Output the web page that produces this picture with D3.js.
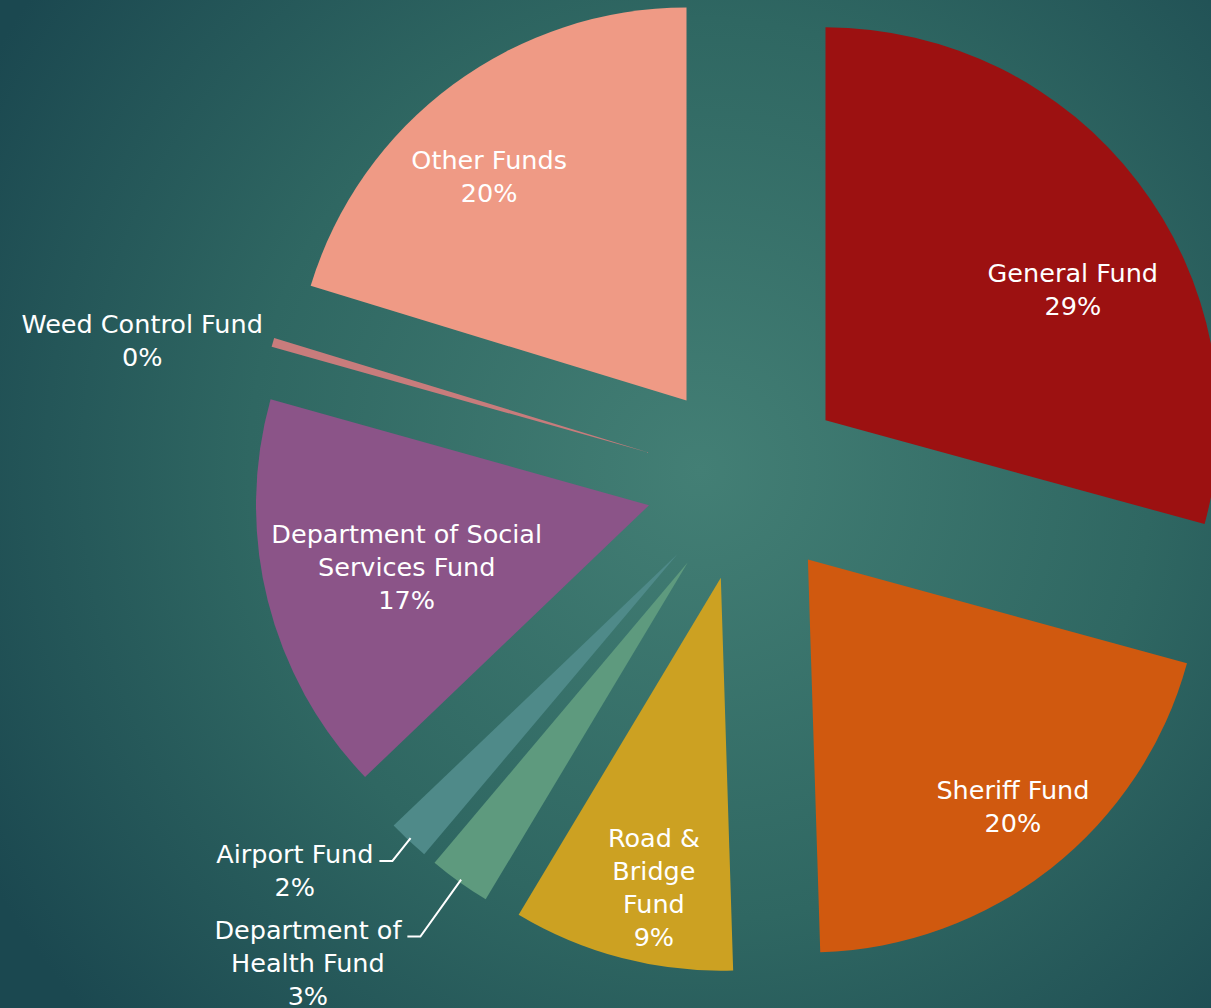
<!DOCTYPE html>
<html>
<head>
<meta charset="utf-8">
<script src="https://cdn.jsdelivr.net/npm/d3@7"></script>
<style>
  html, body { margin: 0; padding: 0; overflow: hidden; }
  text { font-family: "DejaVu Sans", sans-serif; fill: #fff; }
</style>
</head>
<body>
<svg id="chart"></svg>
<script>
const W = 1211, H = 1008;
const R = 393;       // pie radius
const EXPLODE = 100; // distance each slice is pulled out

// data
var funds = ["General Fund", "Sheriff Fund", "Road & Bridge Fund", "Department of Health Fund",
             "Airport Fund", "Department of Social Services Fund", "Weed Control Fund", "Other Funds"];
var shares = [29.25, 20.25, 9.1, 2.55, 1.7, 16.5, 0.37, 20.28];
var colors = ["#9c1111", "#d0590f", "#cca122", "#5e9a7e", "#4f8a89", "#8b5488", "#c87c7c", "#ef9a85"];
// how each label is broken into lines
var labelLines = [["General Fund"], ["Sheriff Fund"], ["Road &", "Bridge", "Fund"],
                  ["Department of", "Health Fund"], ["Airport Fund"],
                  ["Department of Social", "Services Fund"], ["Weed Control Fund"], ["Other Funds"]];

// label placement: inside labels -> distance along bisector + sideways nudge,
// outside labels -> polar position from pie center (radius, degrees)
var place = {
  "General Fund": {along: 276, side: 46},
  "Sheriff Fund": {along: 321, side: -8},
  "Road & Bridge Fund": {along: 316, side: -13},
  "Department of Social Services Fund": {along: 250, side: -1},
  "Other Funds": {along: 298, side: -25},
  "Department of Health Fund": {out: 651, deg: 222.3, leader: true},
  "Airport Fund": {out: 596, deg: 229.2, leader: true},
  "Weed Control Fund": {out: 620, deg: 283.1, leader: false}
};

var cx = 746, cy = 481;
var LH = 33;

var svg = d3.select("#chart").attr("width", W).attr("height", H);

// background
var grad = svg.append("defs").append("radialGradient")
    .attr("id", "bg").attr("gradientUnits", "userSpaceOnUse")
    .attr("cx", 700).attr("cy", 470).attr("r", 820);
grad.append("stop").attr("offset", "0%").attr("stop-color", "#437f75");
grad.append("stop").attr("offset", "55%").attr("stop-color", "#2f6762");
grad.append("stop").attr("offset", "100%").attr("stop-color", "#1b4850");
svg.append("rect").attr("width", W).attr("height", H).attr("fill", "url(#bg)");

var pie = d3.pie().sort(null).value(d => d.v);
var arc = d3.arc().innerRadius(0).outerRadius(R);
var data = funds.map((f, i) => ({name: f, v: shares[i], color: colors[i], lines: labelLines[i]}));
var arcs = pie(data);

function dir(a) { return [Math.sin(a), -Math.cos(a)]; }

var g = svg.append("g").attr("transform", "translate(" + cx + "," + cy + ")");

var slices = g.selectAll(".slice").data(arcs).enter().append("g")
    .attr("class", "slice")
    .attr("transform", d => {
      var m = (d.startAngle + d.endAngle) / 2, u = dir(m);
      return "translate(" + (u[0] * EXPLODE) + "," + (u[1] * EXPLODE) + ")";
    });

slices.append("path")
    .attr("d", arc)
    .attr("fill", d => d.data.color);

// labels
arcs.forEach(function(d) {
  var p = place[d.data.name];
  var m = (d.startAngle + d.endAngle) / 2, u = dir(m);
  var x, y;
  if (p.along !== undefined) {
    var t = [Math.cos(m), Math.sin(m)];
    x = u[0] * (EXPLODE + p.along) + t[0] * p.side;
    y = u[1] * (EXPLODE + p.along) + t[1] * p.side;
  } else {
    var a = p.deg * Math.PI / 180, v = dir(a);
    x = v[0] * p.out;
    y = v[1] * p.out;
  }
  var lines = d.data.lines.concat([Math.round(d.data.v) + "%"]);
  var top = y - (lines.length - 1) * LH / 2;
  var txt = g.append("text")
      .attr("text-anchor", "middle")
      .style("font-size", "25.5px");
  lines.forEach(function(s, i) {
    txt.append("tspan").attr("x", x).attr("y", top + i * LH).attr("dy", "0.36em").text(s);
  });

  if (p.leader) {
    var w = txt.select("tspan").node().getComputedTextLength();
    var x0 = x + w / 2 + 6, y0 = top + 7;
    var end = [u[0] * (EXPLODE + R - 3), u[1] * (EXPLODE + R - 3)];
    g.append("path")
        .attr("d", "M" + x0 + "," + y0 + "H" + (x0 + 13) + "L" + end[0] + "," + end[1])
        .attr("fill", "none")
        .attr("stroke", "#fff")
        .attr("stroke-width", 2);
  }
});
</script>
</body>
</html>
